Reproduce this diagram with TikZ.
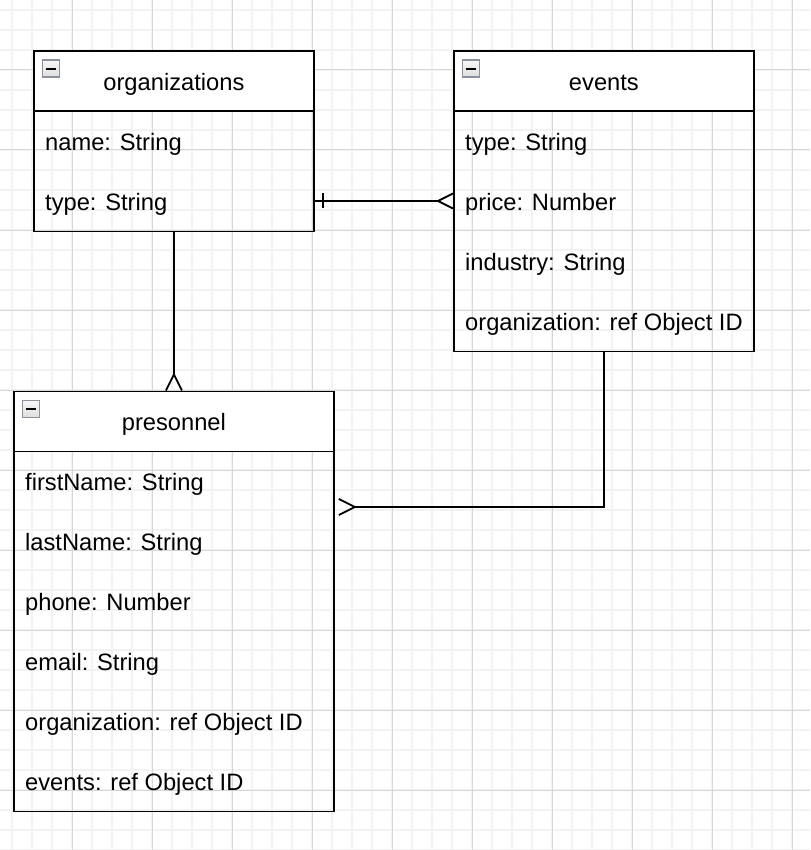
\documentclass[tikz,border=0pt]{standalone}
\usepackage{fontspec}
\setmainfont{Liberation Sans}
\usetikzlibrary{calc}
\definecolor{gridminor}{HTML}{F2F2F2}
\definecolor{gridmajor}{HTML}{D6D6D6}
\definecolor{iconborder}{HTML}{8C919E}
\tikzset{
  tablebox/.style={draw=black, line width=1.8pt, rectangle, anchor=north west, inner sep=0pt},
  headbox/.style={draw=black, fill=white, line width=1.8pt, rectangle, anchor=north west,
    inner sep=0pt, minimum height=60pt},
  headtext/.style={inner sep=0pt, text height=17pt, text depth=0pt, font=\fontsize{23.7}{28}\selectfont},
  rowtext/.style={anchor=west, inner sep=0pt, font=\fontsize{23.7}{28}\selectfont},
  conn/.style={draw=black, line width=1.8pt},
  iconbox/.style={draw=iconborder, line width=1.2pt, top color=gray!6, bottom color=gray!26,
    rectangle, minimum size=17pt, anchor=north west, inner sep=0pt},
  icondash/.style={draw=black, line width=2.6pt}
}
\begin{document}
\begin{tikzpicture}[x=1pt,y=-1pt]
\useasboundingbox (0,0) rectangle (810,850);
\fill[white] (0,0) rectangle (810,850);
% grid
\foreach \x in {12,32,...,812} \draw[gridminor, line width=1.4pt] (\x,0) -- (\x,850);
\foreach \y in {10,30,...,850} \draw[gridminor, line width=1.4pt] (0,\y) -- (810,\y);
\foreach \x in {72,152,...,800} \draw[gridmajor, line width=1pt] (\x,0) -- (\x,850);
\foreach \y in {70,150,...,850} \draw[gridmajor, line width=1pt] (0,\y) -- (810,\y);

% ---------- organizations ----------
\node[tablebox, minimum width=280pt, minimum height=180pt] (org) at (33,50.5) {};
\node[headbox, minimum width=280pt] (orghead) at (33,50.5) {};
\node[headtext] (orgtitle) at ($(orghead.center)+(0,0.5)$) {organizations};
\node[iconbox] (orgicon) at (42,59.5) {};
\draw[icondash] ($(orgicon.west)+(4,0.5)$) -- ($(orgicon.east)+(-4,0.5)$);
\node[rowtext] (orgname) at (45,144) {name: String};
\node[rowtext] (orgtype) at (45,204) {type: String};

% ---------- events ----------
\node[tablebox, minimum width=300pt, minimum height=300pt] (events) at (453,50.5) {};
\node[headbox, minimum width=300pt] (evhead) at (453,50.5) {};
\node[headtext] (evtitle) at ($(evhead.center)+(0,0.5)$) {events};
\node[iconbox] (evicon) at (462,59.5) {};
\draw[icondash] ($(evicon.west)+(4,0.5)$) -- ($(evicon.east)+(-4,0.5)$);
\node[rowtext] (evtype) at (465,144) {type: String};
\node[rowtext] (evprice) at (465,204) {price: Number};
\node[rowtext] (evindustry) at (465,264) {industry: String};
\node[rowtext] (evorg) at (465,324) {organization: ref Object ID};

% ---------- presonnel ----------
\node[tablebox, minimum width=320pt, minimum height=420pt] (pers) at (13,390.5) {};
\node[headbox, minimum width=320pt] (pershead) at (13,390.5) {};
\node[headtext] (perstitle) at ($(pershead.center)+(0,0.5)$) {presonnel};
\node[iconbox] (persicon) at (22,399.5) {};
\draw[icondash] ($(persicon.west)+(4,0.5)$) -- ($(persicon.east)+(-4,0.5)$);
\node[rowtext] (pfirst) at (25,484) {firstName: String};
\node[rowtext] (plast) at (25,544) {lastName: String};
\node[rowtext] (pphone) at (25,604) {phone: Number};
\node[rowtext] (pemail) at (25,664) {email: String};
\node[rowtext] (porg) at (25,724) {organization: ref Object ID};
\node[rowtext] (pevents) at (25,784) {events: ref Object ID};

% ---------- connectors ----------
% organizations (one) -- events (many)
\coordinate (c1s) at (org.east |- 0,201);
\coordinate (c1e) at (events.west |- 0,201);
\draw[conn] (c1s) -- ($(c1e)+(-15,0)$);
\draw[conn] ($(c1s)+(8,-7.5)$) -- ($(c1s)+(8,7.5)$);
\draw[conn] ($(c1e)+(0,-7.5)$) -- ($(c1e)+(-15,0)$) -- ($(c1e)+(0,7.5)$);

% organizations -- presonnel (many)
\draw[conn] (org.south) -- ($(pers.north)+(0,-16)$);
\draw[conn] ($(pers.north)+(-8,0)$) -- ($(pers.north)+(0,-16)$) -- ($(pers.north)+(8,0)$);

% events -- presonnel (many)
\coordinate (c3e) at ($(pers.north east)+(0,116.5)$);
\draw[conn] (events.south) |- ($(c3e)+(20,0)$);
\draw[conn] ($(c3e)+(4,-8)$) -- ($(c3e)+(20,0)$) -- ($(c3e)+(4,8)$);
\end{tikzpicture}
\end{document}
